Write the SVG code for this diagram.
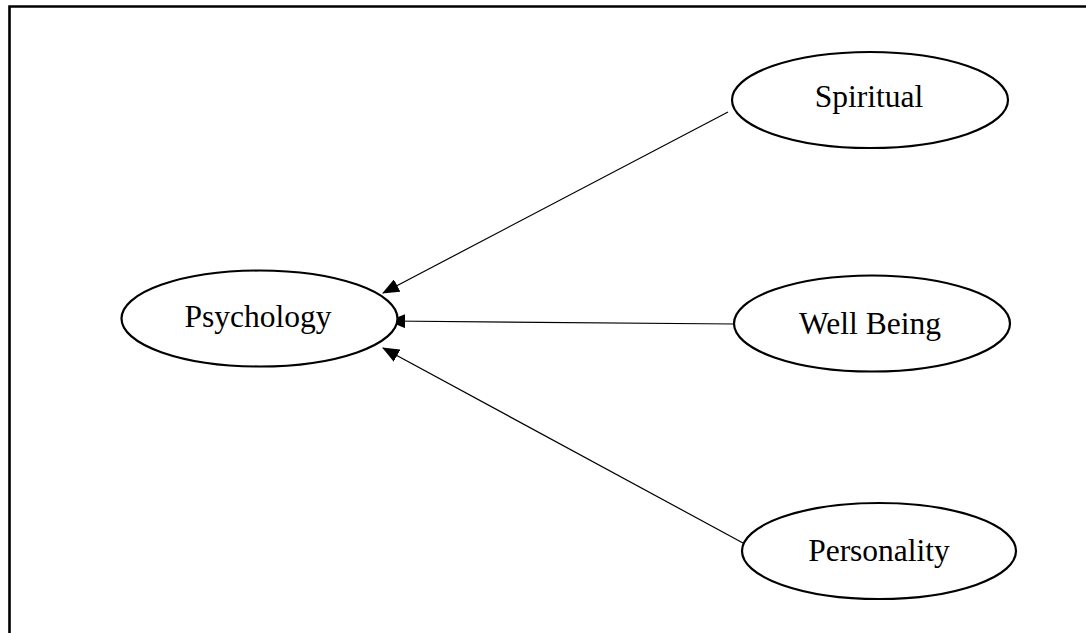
<svg xmlns="http://www.w3.org/2000/svg" width="1086" height="633" viewBox="0 0 1086 633">
<style>
.node ellipse{fill:#fff;stroke:#000;stroke-width:2.2}
.node text{font-family:"Liberation Serif","Times New Roman",serif;font-size:31.5px;fill:#000;text-anchor:middle}
.edge{stroke:#000;stroke-width:1.2;fill:none;marker-end:url(#ah)}
.frame{stroke:#000;stroke-width:2.6;fill:none}
</style>
<defs>
<marker id="ah" markerWidth="17" markerHeight="14" refX="16" refY="7" orient="auto" markerUnits="userSpaceOnUse">
<path d="M0,0 L17,7 L0,14 Z" fill="#000"/>
</marker>
</defs>
<rect width="1086" height="633" fill="#fff"/>
<path class="frame" d="M9.5,633 L9.5,6.5 L1086,6.5"/>
<g id="connectors">
<line class="edge" x1="728" y1="112" x2="383" y2="293"/>
<line class="edge" x1="735" y1="324" x2="389" y2="321"/>
<line class="edge" x1="743" y1="543" x2="383" y2="348"/>
</g>
<g id="psychology" class="node">
<ellipse cx="259.5" cy="318.5" rx="138" ry="48"/>
<text x="258" y="327">Psychology</text>
</g>
<g id="spiritual" class="node">
<ellipse cx="870" cy="100" rx="138" ry="48"/>
<text x="869" y="107">Spiritual</text>
</g>
<g id="wellbeing" class="node">
<ellipse cx="872" cy="323.5" rx="138" ry="48"/>
<text x="870" y="334">Well Being</text>
</g>
<g id="personality" class="node">
<ellipse cx="879" cy="551" rx="137" ry="48"/>
<text x="879" y="561">Personality</text>
</g>
</svg>
